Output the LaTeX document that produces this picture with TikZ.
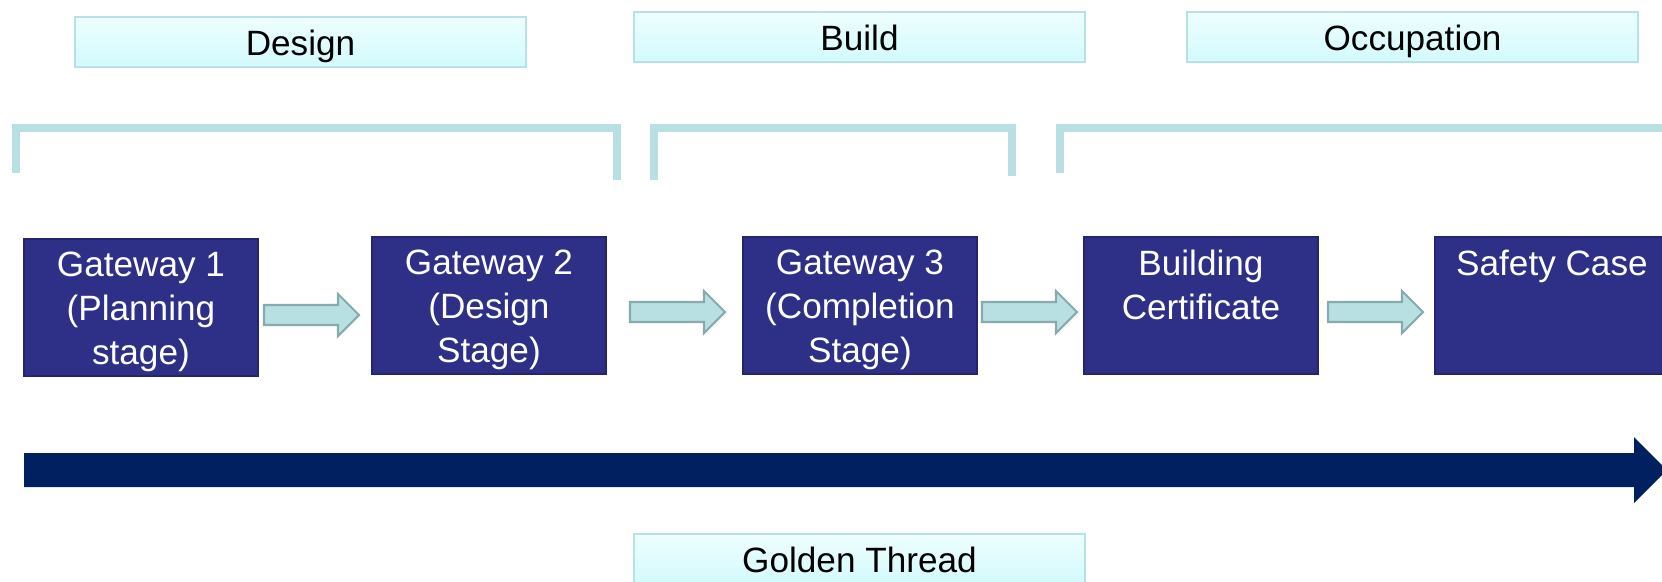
\documentclass[tikz,border=0pt]{standalone}
\usepackage{fontspec}
\setmainfont{Liberation Sans}
\definecolor{gateblue}{HTML}{2E3088}
\definecolor{gateedge}{HTML}{24256E}
\definecolor{bracketcol}{HTML}{B8DFE2}
\definecolor{phasetop}{HTML}{EEFEFE}
\definecolor{phasebot}{HTML}{D2FAFC}
\definecolor{phaseedge}{HTML}{B6E2E5}
\definecolor{stepfill}{HTML}{B8DFE2}
\definecolor{stepedge}{HTML}{88AAAA}
\definecolor{threadblue}{HTML}{002060}
\begin{document}
\begin{tikzpicture}[x=0.01cm, y=-0.01cm,
    phase/.style={draw=phaseedge, line width=0.5pt, top color=phasetop, bottom color=phasebot,
        minimum width=4.51cm, minimum height=0.5cm, inner sep=0, anchor=north west},
    phasetext/.style={anchor=base, inner sep=0, font=\fontsize{10}{12}\selectfont, yshift=-0.39cm},
    gate/.style={draw=gateedge, line width=0.5pt, fill=gateblue,
        minimum width=2.34cm, minimum height=1.37cm, inner sep=0, anchor=north west},
    gatetext/.style={text=white, align=center, anchor=north, inner sep=0,
        font=\fontsize{10}{12.5}\selectfont, yshift=-0.135cm},
    bracket/.style={draw=bracketcol, line width=2pt},
    stepper/.style={draw=stepedge, fill=stepfill, line width=0.6pt}]
        \useasboundingbox (0,0) rectangle (1662,581);
        \clip (0,0) rectangle (1662,581);

        % Phase labels
        \node[phase] (design) at (74,16) {};
        \node[phase] (build) at (633,11) {};
        \node[phase] (occupation) at (1186,11) {};
        \node[phase] (golden) at (633,533) {};
        \node[phasetext] (designtxt) at (design.north) {Design};
        \node[phasetext] (buildtxt) at (build.north) {Build};
        \node[phasetext] (occupationtxt) at (occupation.north) {Occupation};
        \node[phasetext] (goldentxt) at (golden.north) {Golden Thread};

        % Brackets
        \draw[bracket] (16,173) -- (16,128) -- (617,128) -- (617,180);
        \draw[bracket] (654,180) -- (654,128) -- (1012,128) -- (1012,176);
        \draw[bracket] (1060,173) -- (1060,128) -- (1670,128);

        % Gateways
        \node[gate] (g1) at (23,238) {};
        \node[gate] (g2) at (371,236) {};
        \node[gate] (g3) at (742,236) {};
        \node[gate] (g4) at (1083,236) {};
        \node[gate] (g5) at (1434,236) {};
        \node[gatetext] (g1txt) at (g1.north) {Gateway 1\\(Planning\\stage)};
        \node[gatetext] (g2txt) at (g2.north) {Gateway 2\\(Design\\Stage)};
        \node[gatetext] (g3txt) at (g3.north) {Gateway 3\\(Completion\\Stage)};
        \node[gatetext] (g4txt) at (g4.north) {Building\\Certificate};
        \node[gatetext] (g5txt) at (g5.north) {Safety Case};

        % Step arrows
        \foreach \x/\y in {264/315, 630/312, 982/312, 1328/312} {
            \filldraw[stepper] (\x,\y-10) -- (\x+74,\y-10) -- (\x+74,\y-21) -- (\x+95,\y)
                -- (\x+74,\y+21) -- (\x+74,\y+10) -- (\x,\y+10) -- cycle;
        }

        % Thread arrow
        \fill[threadblue] (24,453) -- (1634,453) -- (1634,437) -- (1667,470)
            -- (1634,503) -- (1634,487) -- (24,487) -- cycle;
    \end{tikzpicture}
\end{document}
